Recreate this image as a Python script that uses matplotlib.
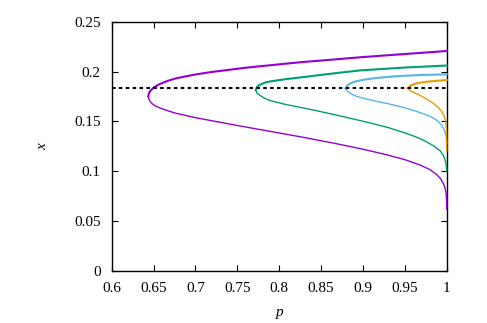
import numpy as np
import matplotlib.pyplot as plt

plt.rcParams['font.family'] = ['Liberation Serif', 'DejaVu Serif']

# each branch as (p, x), starting at the fold point
purple_lo_p = [0.6437, 0.6444, 0.6460, 0.6487, 0.653, 0.6577, 0.6676, 0.6776, 0.6986, 0.7174, 0.757,
               0.789, 0.8287, 0.8687, 0.900, 0.928, 0.950, 0.968, 0.980, 0.988, 0.993, 0.996, 0.998,
               0.9993, 0.99985, 1.0]
purple_lo_x = [0.1752, 0.1722, 0.1699, 0.1675, 0.1652, 0.1635, 0.1605, 0.1580, 0.1540, 0.1510, 0.1448,
               0.1400, 0.1340, 0.1275, 0.1220, 0.1165, 0.1115, 0.1062, 0.1015, 0.0965, 0.0920, 0.0875,
               0.0830, 0.0770, 0.0700, 0.0620]
purple_up_p = [0.6437, 0.6444, 0.6460, 0.6487, 0.6517, 0.6577, 0.6676, 0.6776, 0.6986, 0.7174, 0.757,
               0.789, 0.8287, 0.8687, 0.8965, 0.950, 1.0]
purple_up_x = [0.1752, 0.1782, 0.1805, 0.1830, 0.1850, 0.1877, 0.1910, 0.1935, 0.1970, 0.1995, 0.2037,
               0.2065, 0.2098, 0.2125, 0.2145, 0.2178, 0.2208]

green_lo_p = [0.7719, 0.7734, 0.7762, 0.783, 0.789, 0.8069, 0.8308, 0.8487, 0.878, 0.9084,
              0.930, 0.9482, 0.963, 0.976, 0.985, 0.992, 0.996, 0.998, 0.9995, 1.0]
green_lo_x = [0.1816, 0.1786, 0.1766, 0.1730, 0.1710, 0.1672, 0.1632, 0.1600, 0.1545, 0.1485,
              0.1438, 0.1390, 0.1345, 0.1295, 0.1250, 0.1205, 0.1160, 0.1115, 0.1060, 0.1000]
green_up_p = [0.7719, 0.7734, 0.7762, 0.783, 0.789, 0.8069, 0.8308, 0.860, 0.8965, 0.950, 1.0]
green_up_x = [0.1816, 0.1846, 0.1866, 0.1890, 0.1902, 0.1924, 0.1948, 0.1978, 0.2013, 0.2042, 0.2062]

blue_lo_p = [0.8794, 0.8814, 0.885, 0.8905, 0.900, 0.9144, 0.930, 0.9463, 0.960, 0.976, 0.985,
             0.990, 0.995, 0.998, 0.9995, 1.0]
blue_lo_x = [0.1833, 0.1803, 0.1783, 0.1758, 0.1733, 0.1705, 0.1678, 0.1645, 0.1612, 0.1565,
             0.1530, 0.1497, 0.1450, 0.1396, 0.1340, 0.1280]
blue_up_p = [0.8794, 0.8814, 0.885, 0.8905, 0.900, 0.9144, 0.930, 0.9463, 0.970, 1.0]
blue_up_x = [0.1833, 0.1863, 0.1883, 0.1901, 0.1918, 0.1935, 0.1948, 0.1958, 0.1967, 0.1974]

orange_lo_p = [0.9534, 0.9572, 0.962, 0.968, 0.976, 0.984, 0.990, 0.994, 0.997, 0.9988,
               0.9997, 1.0]
orange_lo_x = [0.1833, 0.1803, 0.1786, 0.1762, 0.1725, 0.1682, 0.1640, 0.1600, 0.1550,
               0.1497, 0.1420, 0.1200]
orange_up_p = [0.9534, 0.9572, 0.962, 0.968, 0.976, 0.986, 1.0]
orange_up_x = [0.1833, 0.1863, 0.1878, 0.1890, 0.1899, 0.1907, 0.1916]

x_fold = 0.1833

branches = [
    (purple_lo_p, purple_lo_x, purple_up_p, purple_up_x, '#9400d3'),
    (green_lo_p, green_lo_x, green_up_p, green_up_x, '#009e73'),
    (blue_lo_p, blue_lo_x, blue_up_p, blue_up_x, '#56b4e9'),
    (orange_lo_p, orange_lo_x, orange_up_p, orange_up_x, '#e69f00'),
]

fig = plt.figure(figsize=(4.87, 3.23), dpi=100)
ax = fig.add_axes([0.2294, 0.1625, 0.6879, 0.7694])

for lp, lx, up, ux, c in branches:
    ax.plot(lp, lx, color=c, lw=1.0, clip_on=False, zorder=3, solid_joinstyle='round')
    ax.plot(up, ux, color=c, lw=1.5, clip_on=False, zorder=3, solid_joinstyle='round')

ax.plot([0.6, 1.0], [x_fold, x_fold], color='black', lw=1.5, dashes=(1.7, 1.6), zorder=4)

ax.set_xlim(0.6, 1.0)
ax.set_ylim(0, 0.25)
ax.set_xticks(np.arange(0.6, 1.0001, 0.05))
ax.set_xticklabels(['0.6', '0.65', '0.7', '0.75', '0.8', '0.85', '0.9', '0.95', '1'])
ax.set_yticks(np.arange(0, 0.2501, 0.05))
ax.set_yticklabels(['0', '0.05', '0.1', '0.15', '0.2', '0.25'])
ax.tick_params(direction='in', top=True, right=True, length=4, width=0.8,
               labelsize=11, pad=8)
for s in ax.spines.values():
    s.set_linewidth(1.0)

ax.set_xlabel('p', fontsize=11, style='italic', labelpad=8)
ax.set_ylabel('x', fontsize=11, style='italic', rotation=90, labelpad=18)

fig.savefig('out.png', dpi=100)
